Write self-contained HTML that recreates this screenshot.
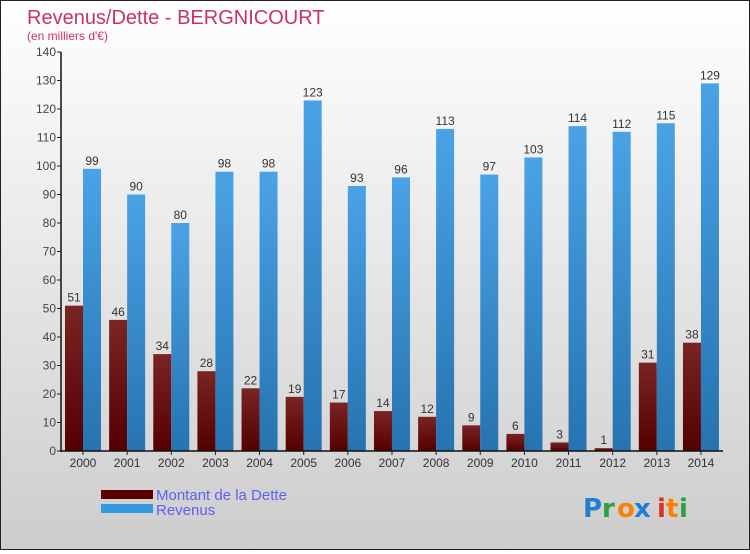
<!DOCTYPE html>
<html><head><meta charset="utf-8"><style>
body{margin:0;width:750px;height:550px;overflow:hidden;font-family:"Liberation Sans",sans-serif}
#wrap{position:relative;width:748px;height:548px;border:1px solid #222;background:linear-gradient(#fff,#cdcdcd)}
</style></head><body>
<div id="wrap">
<svg id="chart" width="748" height="548">
<defs>
<linearGradient id="gD" x1="0" y1="0" x2="0" y2="1"><stop offset="0" stop-color="#7a2424"/><stop offset="1" stop-color="#550000"/></linearGradient>
<linearGradient id="gR" x1="0" y1="0" x2="0" y2="1"><stop offset="0" stop-color="#4aa3e6"/><stop offset="1" stop-color="#2673b0"/></linearGradient>
</defs>
<text x="26" y="23" font-size="20" fill="#c8326a">Revenus/Dette - BERGNICOURT</text>
<text x="26" y="39" font-size="12" fill="#c8326a">(en milliers d'€)</text>
<g id="grid"></g><g id="bars"></g><g id="axes"></g>
<rect x="100" y="489" width="52" height="9" fill="#5a0000"/>
<rect x="100" y="503" width="52" height="9" fill="#3399e0"/>
<text x="155" y="499" font-size="15" fill="#6060f0">Montant de la Dette</text>
<text x="155" y="514" font-size="15" fill="#6060f0">Revenus</text>
<g font-size="26" font-family="DejaVu Sans, sans-serif" font-weight="bold">
<text x="582" y="516" fill="#1f7fd0">P</text><text x="601" y="516" fill="#2aa040">r</text><text x="616" y="516" fill="#ff8000">o</text><text x="633" y="516" fill="#1f7fd0">x</text><text x="656" y="516" fill="#e03020">i</text><text x="665" y="516" fill="#ff8000">t</text><text x="678" y="516" fill="#2aa040">i</text>
</g>
</svg></div>
<script>
const years=["2000","2001","2002","2003","2004","2005","2006","2007","2008","2009","2010","2011","2012","2013","2014"];
const dette=[51,46,34,28,22,19,17,14,12,9,6,3,1,31,38];
const revenus=[99,90,80,98,98,123,93,96,113,97,103,114,112,115,129];
const yTicks=[0,10,20,30,40,50,60,70,80,90,100,110,120,130,140];
const NS="http://www.w3.org/2000/svg";
const y0=450,yMax=140,yTop=51;
function yS(v){return y0-(v/yMax)*(y0-yTop);}
function xC(i){return 82+i*44.14;}
function mk(t,a,p){const e=document.createElementNS(NS,t);for(const k in a)e.setAttribute(k,a[k]);p.appendChild(e);return e;}
const grid=document.getElementById('grid'),bars=document.getElementById('bars'),axes=document.getElementById('axes');
yTicks.forEach(v=>{
 const l=mk('line',{x1:60,x2:56,y1:yS(v),y2:yS(v),stroke:'#222'},axes);
 
 
 const t=mk('text',{x:55,y:yS(v)+4,'text-anchor':'end','font-size':12,fill:'#444'},axes);t.textContent=v;
 
 
});
years.forEach((yr,i)=>{
 const c=xC(i);
 const d=mk('rect',{x:c-18,y:yS(dette[i]),width:18,height:y0-yS(dette[i]),fill:'url(#gD)'},bars);
 
 
 const r=mk('rect',{x:c,y:yS(revenus[i]),width:18,height:y0-yS(revenus[i]),fill:'url(#gR)'},bars);
 
 
 const dl=mk('text',{x:c-9,y:yS(dette[i])-4,'text-anchor':'middle','font-size':12,fill:'#333'},bars);dl.textContent=dette[i];
 
 
 const rl=mk('text',{x:c+9,y:yS(revenus[i])-4,'text-anchor':'middle','font-size':12,fill:'#333'},bars);rl.textContent=revenus[i];
 
 
 const tk=mk('line',{x1:c,x2:c,y1:y0,y2:y0+4,stroke:'#222'},axes);
 
 
 const xl=mk('text',{x:c,y:466,'text-anchor':'middle','font-size':12,fill:'#333'},axes);xl.textContent=yr;
 
 
});
const ya=mk('line',{x1:60,x2:60,y1:yTop,y2:y0+1,stroke:'#111','stroke-width':1.5},axes);


const xa=mk('line',{x1:60,x2:722,y1:y0,y2:y0,stroke:'#111','stroke-width':1.5},axes);


</script>
</body></html>
